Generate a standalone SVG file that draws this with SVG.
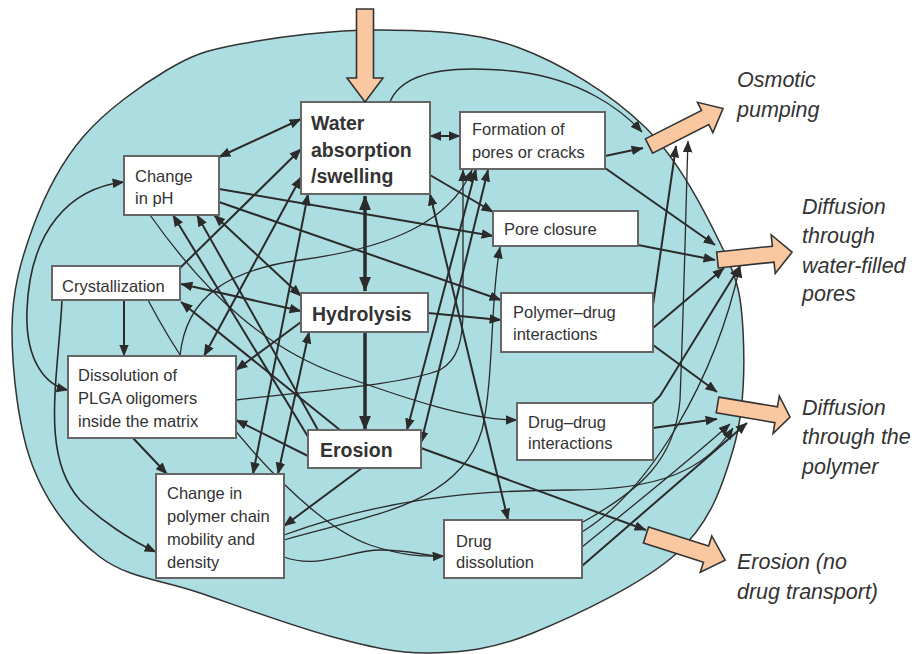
<svg xmlns="http://www.w3.org/2000/svg" width="918" height="654" viewBox="0 0 918 654">
<defs>
<style>
.bx{fill:#fff;stroke:#666;stroke-width:2}
.t{font-family:"Liberation Sans",Arial,sans-serif;font-size:16.5px;fill:#333}
.tb{font-family:"Liberation Sans",Arial,sans-serif;font-size:19.5px;font-weight:bold;fill:#333}
.ti{font-family:"Liberation Sans",Arial,sans-serif;font-size:21.5px;font-style:italic;fill:#333}
.c{fill:none;stroke:#2b2b2b;stroke-width:2}
.cn{fill:none;stroke:#2b2b2b;stroke-width:1.3}
.ck{fill:none;stroke:#2b2b2b;stroke-width:3.5}
.e{marker-end:url(#m)}
.d{marker-start:url(#m);marker-end:url(#m)}
.ba{fill:#fac8a0;stroke:#333;stroke-width:1.6;stroke-linejoin:miter}
</style>
<marker id="m" viewBox="0 0 10 8" refX="9.5" refY="4" markerWidth="12" markerHeight="10" markerUnits="userSpaceOnUse" orient="auto-start-reverse"><path d="M0,0 L10,4 L0,8 Z" fill="#2b2b2b"/></marker>
<marker id="mb" viewBox="0 0 10 8" refX="9.5" refY="4" markerWidth="15" markerHeight="13" markerUnits="userSpaceOnUse" orient="auto-start-reverse"><path d="M0,0 L10,4 L0,8 Z" fill="#2b2b2b"/></marker>
</defs>
<rect width="918" height="654" fill="#fff"/>
<path id="matrix" d="M380,30 C426.2,30.5 472.8,30.8 517,47 C561.2,63.2 610.8,93.7 645,127 C679.2,160.3 705.7,213.2 722,247 C738.3,280.8 741.2,296.2 743,330 C744.8,363.8 744,412.8 733,450 C722,487.2 710.3,522.5 677,553 C643.7,583.5 574.2,616.3 533,633 C491.8,649.7 463.3,652.3 430,653 C396.7,653.7 371.3,647 333,637 C294.7,627 238.8,606.3 200,593 C161.2,579.7 127.8,578 100,557 C72.2,536 47.7,504.8 33,467 C18.3,429.2 12,370 12,330 C12,290 21.2,259.2 33,227 C44.8,194.8 60.7,163.2 83,137 C105.3,110.8 140.8,85.5 167,70 C193.2,54.5 204.5,50.7 240,44 C275.5,37.3 333.8,29.5 380,30 Z" fill="#acdde0" stroke="#333" stroke-width="1.5"/>
<g id="connectors">
<path class="c d" d="M219,157 L301,119"/>
<path class="c d" d="M430,136 L460,136"/>
<path class="ck" d="M365,196 L365,291" marker-start="url(#mb)" marker-end="url(#mb)"/>
<path class="ck" d="M365,332 L365,430" marker-end="url(#mb)"/>
<path class="c e" d="M605,156 L643,148"/>
<path class="c e" d="M605,168 L715,245"/>
<path class="c e" d="M430,175 L493,212"/>
<path class="c e" d="M638,245 L715,260"/>
<path class="c e" d="M219,189 L493,236"/>
<path class="c e" d="M219,202 L501,300"/>
<path class="c d" d="M214,215 L301,296"/>
<path class="c e" d="M428,313 L501,320"/>
<path class="c d" d="M181,284 L301,311"/>
<path class="c e" d="M180,268 L301,149"/>
<path class="c d" d="M301,177 L204,356"/>
<path class="c d" d="M308,194 L253,474"/>
<path class="c d" d="M309,332 L278,474"/>
<path class="c e" d="M310,440 L173,215"/>
<path class="c e" d="M318,430 L197,215"/>
<path class="c e" d="M340,430 L181,302"/>
<path class="c e" d="M308,456 L236,420"/>
<path class="c e" d="M301,322 L236,370"/>
<path class="c e" d="M362,468 L284,526"/>
<path class="c e" d="M133,438 L167,474"/>
<path class="c e" d="M124,300 L124,356"/>
<path class="c d" d="M430,194 L508,520"/>
<path class="c d" d="M476,169 L407,430"/>
<path class="c d" d="M488,170 L421,443"/>
<path class="c e" d="M421,448 L646,530"/>
<path class="c e" d="M653,305 L676,146"/>
<path class="c e" d="M653,328 L724,268"/>
<path class="c e" d="M653,345 L717,392"/>
<path class="c e" d="M653,428 L717,419"/>
<path class="c e" d="M653,403 L660,396 L740,266"/>
<path class="c e" d="M582,566 L747,423"/>
<path class="cn e" d="M582,547 C640,500 690,460 730,424"/>
<path class="cn e" d="M390,102 C402,72 450,64 520,72 C580,80 620,108 642,132"/>
<path class="c d" d="M124,182 C70,188 30,230 27,310 C25,360 45,385 68,390" style="stroke-width:1.6"/>
<path class="c e" d="M62,300 C58,380 40,455 80,500 C100,520 130,540 156,552" style="stroke-width:1.6"/>
<path class="cn e" d="M148,300 C200,400 300,520 370,545 C400,555 420,557 444,556"/>
<path class="cn e" d="M150,215 C210,300 270,350 340,375 C410,400 470,420 517,420"/>
<path class="cn e" d="M236,400 C320,390 400,385 440,370 C458,360 463,340 463,310 L463,170"/>
<path class="cn e" d="M180,356 C186,295 230,270 300,260 C390,248 450,222 472,170"/>
<path class="cn e" d="M284,540 C370,515 460,505 482,430 C494,380 490,300 500,247"/>
<path class="cn e" d="M284,535 C380,500 470,490 570,490 C660,490 705,470 733,428"/>
<path class="cn" d="M284,557 C320,570 350,550 380,550 C410,550 425,556 440,556"/>
<path class="cn e" d="M583,522 C640,490 675,460 680,400 C684,300 686,200 688,141"/>
<path class="cn e" d="M582,532 C650,490 715,380 740,266"/>
</g>
<g id="n-water"><rect class="bx" x="301" y="102" width="129" height="92"/><text class="tb" x="311" y="130">Water</text><text class="tb" x="311" y="157">absorption</text><text class="tb" x="311" y="183">/swelling</text></g>
<g id="n-ph"><rect class="bx" x="124" y="156" width="95" height="59"/><text class="t" x="135" y="182">Change</text><text class="t" x="135" y="204">in pH</text></g>
<g id="n-cryst"><rect class="bx" x="52" y="266" width="128" height="34"/><text class="t" x="62" y="292">Crystallization</text></g>
<g id="n-hydro"><rect class="bx" x="301" y="293" width="127" height="39"/><text class="tb" x="312" y="321">Hydrolysis</text></g>
<g id="n-erosion"><rect class="bx" x="308" y="430" width="113" height="38"/><text class="tb" x="320" y="457">Erosion</text></g>
<g id="n-diss"><rect class="bx" x="68" y="356" width="168" height="82"/><text class="t" x="78" y="381">Dissolution of</text><text class="t" x="78" y="404">PLGA oligomers</text><text class="t" x="78" y="427">inside the matrix</text></g>
<g id="n-chain"><rect class="bx" x="156" y="474" width="128" height="104"/><text class="t" x="167" y="499">Change in</text><text class="t" x="167" y="522">polymer chain</text><text class="t" x="167" y="545">mobility and</text><text class="t" x="167" y="568">density</text></g>
<g id="n-pores"><rect class="bx" x="460" y="112" width="145" height="57"/><text class="t" x="472" y="135">Formation of</text><text class="t" x="472" y="158">pores or cracks</text></g>
<g id="n-closure"><rect class="bx" x="493" y="211" width="145" height="35"/><text class="t" x="504" y="235">Pore closure</text></g>
<g id="n-pd"><rect class="bx" x="501" y="293" width="152" height="59"/><text class="t" x="513" y="318">Polymer–drug</text><text class="t" x="513" y="340">interactions</text></g>
<g id="n-dd"><rect class="bx" x="517" y="403" width="136" height="57"/><text class="t" x="528" y="428">Drug–drug</text><text class="t" x="528" y="449">interactions</text></g>
<g id="n-ddiss"><rect class="bx" x="444" y="520" width="138" height="58"/><text class="t" x="456" y="547">Drug</text><text class="t" x="456" y="568">dissolution</text></g>
<g id="outputs">
<polygon class="ba" points="0,-8.5 69,-8.5 69,-18 93,0 69,18 69,8.5 0,8.5" transform="translate(365,9) rotate(90)"/>
<polygon class="ba" points="0,-8 63,-8 63,-17 83,0 63,17 63,8 0,8" transform="translate(649,146) rotate(-26.9)"/>
<polygon class="ba" points="0,-8 56,-8 56,-19.5 75,0 56,19.5 56,8 0,8" transform="translate(717.5,260) rotate(-6)"/>
<polygon class="ba" points="0,-8 59.5,-8 59.5,-19 73.5,0 59.5,19 59.5,8 0,8" transform="translate(717.5,405) rotate(9.4)"/>
<polygon class="ba" points="0,-8.5 63,-8.5 63,-19 83,0 63,19 63,8.5 0,8.5" transform="translate(646,535) rotate(17.6)"/>
<text class="ti" x="737" y="87">Osmotic</text><text class="ti" x="737" y="117">pumping</text>
<text class="ti" x="802" y="214">Diffusion</text><text class="ti" x="802" y="243">through</text><text class="ti" x="802" y="273">water-filled</text><text class="ti" x="802" y="301">pores</text>
<text class="ti" x="802" y="415">Diffusion</text><text class="ti" x="802" y="444">through the</text><text class="ti" x="802" y="474">polymer</text>
<text class="ti" x="737" y="569">Erosion (no</text><text class="ti" x="737" y="599">drug transport)</text>
</g>
</svg>
